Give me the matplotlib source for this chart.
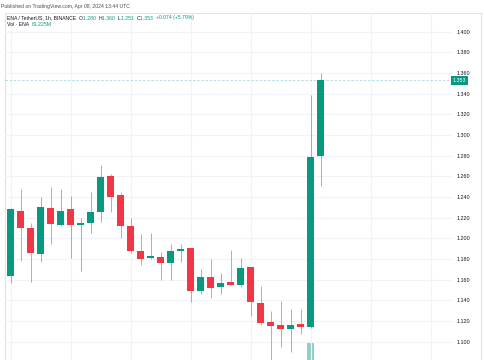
import numpy as np
import matplotlib
matplotlib.use("Agg")
import matplotlib.pyplot as plt

plt.rcParams["font.family"] = ["Liberation Sans", "DejaVu Sans"]

# ENA / TetherUS 1h candles
opens = [1.164, 1.227, 1.210, 1.185, 1.229, 1.213, 1.228, 1.213, 1.215, 1.226, 1.260, 1.242,
         1.212, 1.188, 1.181, 1.182, 1.176, 1.188, 1.191, 1.149, 1.163, 1.153, 1.158, 1.155,
         1.172, 1.137, 1.119, 1.116, 1.112, 1.117, 1.114, 1.280]
highs = [1.229, 1.248, 1.215, 1.240, 1.250, 1.248, 1.241, 1.220, 1.245, 1.271, 1.262, 1.245,
         1.220, 1.204, 1.205, 1.187, 1.195, 1.195, 1.191, 1.170, 1.180, 1.167, 1.189, 1.181,
         1.172, 1.154, 1.130, 1.139, 1.132, 1.132, 1.339, 1.360]
lows = [1.157, 1.178, 1.158, 1.177, 1.195, 1.212, 1.181, 1.168, 1.205, 1.216, 1.226, 1.200,
        1.186, 1.174, 1.180, 1.160, 1.160, 1.177, 1.138, 1.146, 1.142, 1.146, 1.155, 1.153,
        1.125, 1.116, 1.079, 1.095, 1.090, 1.107, 1.113, 1.251]
closes = [1.228, 1.210, 1.186, 1.230, 1.214, 1.227, 1.213, 1.215, 1.226, 1.259, 1.240, 1.212,
          1.188, 1.180, 1.183, 1.176, 1.188, 1.190, 1.149, 1.163, 1.152, 1.157, 1.155, 1.171,
          1.138, 1.118, 1.115, 1.112, 1.116, 1.114, 1.279, 1.353]
# volume in millions of ENA, mostly below the visible part of the pane
volumes = [22, 18, 20, 19, 15, 12, 14, 10, 11, 25, 17, 16,
           14, 12, 9, 8, 9, 7, 18, 12, 10, 8, 9, 11,
           20, 22, 25, 18, 14, 12, 150, 61.225]

price_ticks = [1.10, 1.12, 1.14, 1.16, 1.18, 1.20, 1.22, 1.24, 1.26, 1.28, 1.30, 1.32,
               1.34, 1.36, 1.38, 1.40]
last_price = 1.353
change_abs = 0.074
change_pct = 5.79

GREEN = "#089981"
RED = "#F23645"
GRID = "#f0f3fa"
BORDER = "#e0e3eb"
TEXT = "#131722"

W, H = 485, 360
fig = plt.figure(figsize=(W / 100, H / 100), dpi=100)
fig.patch.set_facecolor("white")

x = np.arange(len(opens))
o = np.array(opens)
c = np.array(closes)
colors = np.where(c >= o, GREEN, RED)

# outer frame of the chart
frame = fig.add_axes([5 / W, 0, 476 / W, 347 / H])
frame.set_xticks([])
frame.set_yticks([])
frame.spines["bottom"].set_visible(False)
for s in ["left", "top", "right"]:
    frame.spines[s].set_color(BORDER)
    frame.spines[s].set_linewidth(0.8)

# volume pane, reaching below the bottom of the picture
vax = fig.add_axes([5 / W, -0.15, 447 / W, 0.25])
vax.bar(x, volumes, width=0.7, color=colors, alpha=0.45, linewidth=0)
vax.set_xlim(-0.56, 44.14)
vax.set_ylim(0, 190)
vax.axis("off")

ax = fig.add_axes([5 / W, 0, 447 / W, 347 / H])
ax.patch.set_alpha(0)
ax.set_xlim(-0.56, 44.14)
ax.set_ylim(1.0823, 1.4182)

ax.set_xticks(np.arange(0, 45, 6))
ax.set_yticks(price_ticks)
ax.grid(True, color=GRID, linewidth=0.8)
ax.set_axisbelow(True)
ax.tick_params(axis="x", length=0, labelbottom=False)
ax.yaxis.tick_right()
ax.tick_params(axis="y", length=0, pad=3.5, labelsize=3.9, labelcolor=TEXT)
ax.set_yticklabels([f"{t:.3f}" for t in price_ticks])
for s in ax.spines.values():
    s.set_visible(False)

# candles
ax.vlines(x, lows, highs, colors=colors, linewidth=0.7, alpha=0.55)
body_lo = np.minimum(o, c)
body_h = np.maximum(np.abs(c - o), 0.0018)
ax.bar(x, body_h, bottom=body_lo, width=0.7, color=colors, linewidth=0)

# last price line and label
ax.axhline(last_price, color=GREEN, linestyle=(0, (3, 2)), linewidth=0.6, alpha=0.35)
ax.text(44.14 + 0.07, last_price, f"{last_price:.3f}", color="white", fontsize=3.9,
        va="center", ha="left",
        bbox=dict(boxstyle="square,pad=0.35", fc=GREEN, ec=GREEN, lw=0))


def chain(x_px, y_px, parts, size=3.7):
    # write coloured pieces one after another on one line
    t = ax.annotate(parts[0][0], xy=(x_px / W, 1 - y_px / H), xycoords="figure fraction",
                    color=parts[0][1], fontsize=size, va="baseline", annotation_clip=False)
    for s, col in parts[1:]:
        t = ax.annotate(s, xy=(1, 0), xycoords=t, color=col, fontsize=size,
                        va="bottom", annotation_clip=False)


fig.text(1.5 / W, 1 - 7.8 / H, "Published on TradingView.com, Apr 08, 2024 13:44 UTC",
         color="#4a4e59", fontsize=3.7, va="baseline")

chain(7.3, 19.5, [
    ("ENA / TetherUS, 1h, BINANCE  ", TEXT),
    ("O", TEXT), (f"{opens[-1]:.3f}  ", GREEN),
    ("H", TEXT), (f"{highs[-1]:.3f}  ", GREEN),
    ("L", TEXT), (f"{lows[-1]:.3f}  ", GREEN),
    ("C", TEXT), (f"{closes[-1]:.3f}  ", GREEN),
    (f"+{change_abs:.3f} (+{change_pct:.2f}%)", GREEN),
])
chain(7.3, 26.0, [
    ("Vol \u00b7 ENA  ", TEXT),
    (f"{volumes[-1]:.3f}M", GREEN),
])

fig.savefig("out.png", dpi=100)
